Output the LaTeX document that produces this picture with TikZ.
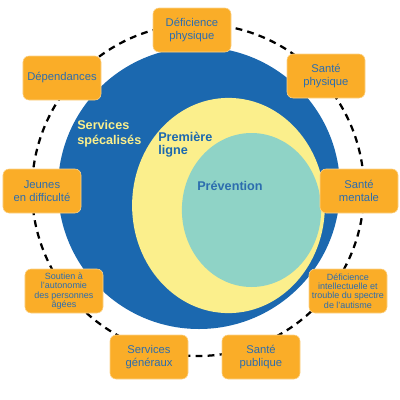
\documentclass[tikz,border=0pt]{standalone}
\usepackage{fontspec}
\setmainfont{Liberation Sans}
\usetikzlibrary{shapes}

\definecolor{ringblue}{HTML}{1B68AF}
\definecolor{lineyellow}{HTML}{FBEF8C}
\definecolor{preventeal}{HTML}{8FD3C6}
\definecolor{boxorange}{HTML}{FAAD28}
\definecolor{labelblue}{HTML}{2C6DAE}

\tikzset{
  program/.style={draw=boxorange!55!white, line width=0.4pt, fill=boxorange,
    rounded corners=1.5mm, minimum width=19.5mm, minimum height=11mm,
    inner sep=1pt, align=center, text=labelblue,
    font=\fontsize{8}{8.8}\selectfont},
  smallprogram/.style={program, font=\fontsize{6.4}{6.7}\selectfont},
  level/.style={font=\bfseries\fontsize{9}{9.5}\selectfont, align=left, inner sep=0pt}
}

\begin{document}
\begin{tikzpicture}[x=0.25mm, y=-0.25mm]
    \useasboundingbox (0, 0) rectangle (400, 400);

    \draw[line width=1.6pt, dash pattern=on 1.7mm off 1.3mm] (198, 190) circle[radius=41.5mm];

    \fill[ringblue] (199, 188) circle[radius=35.25mm];
    \fill[lineyellow] (228.5, 205.5) ellipse[x radius=24.1mm, y radius=26.9mm];
    \fill[preventeal] (251.5, 210) ellipse[x radius=17.4mm, y radius=19.25mm];

    \node[level, text=lineyellow, anchor=west] (specialises) at (77, 134) {Services\\[1pt]spécalisés};
    \node[level, text=ringblue, anchor=west] (premiere) at (158, 145) {Première\\ligne};
    \node[level, text=labelblue] (prevention) at (230, 186) {Prévention};

    \node[program] (defphys) at (192, 30) {Déficience\\physique};
    \node[program] (dependances) at (62, 78) {Dépendances};
    \node[program] (santephys) at (326, 76) {Santé\\physique};
    \node[program] (jeunes) at (42, 191) {Jeunes\\en difficulté};
    \node[program] (santement) at (359, 191) {Santé\\mentale};
    \node[smallprogram] (soutien) at (64, 291) {Soutien à\\l'autonomie\\des personnes\\âgées};
    \node[smallprogram] (defintel) at (348, 291) {Déficience\\intellectuelle et\\trouble du spectre\\de l'autisme};
    \node[program] (servgen) at (149, 357) {Services\\généraux};
    \node[program] (santepub) at (261, 357) {Santé\\publique};
\end{tikzpicture}
\end{document}
